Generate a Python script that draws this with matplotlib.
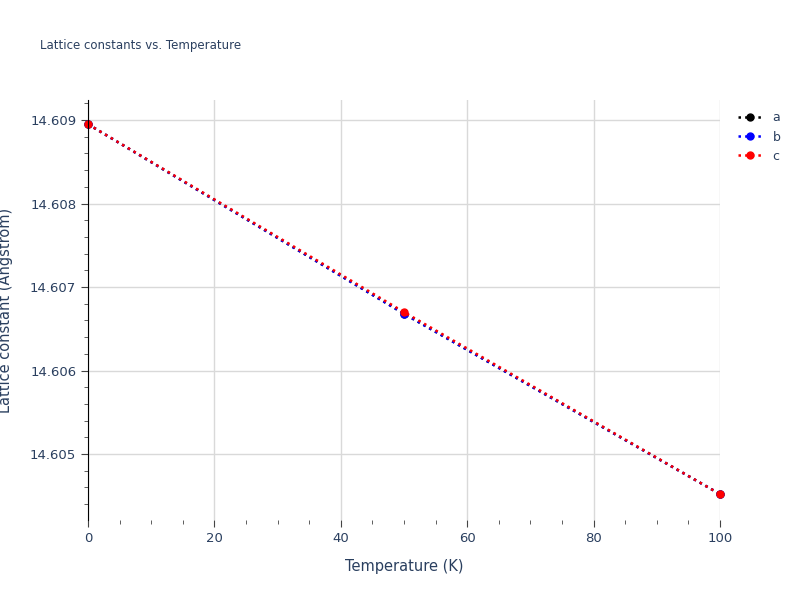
import matplotlib
matplotlib.use("Agg")
import matplotlib.pyplot as plt
from matplotlib.ticker import MultipleLocator

temps = [0, 50, 100]
a_vals = [14.60895, 14.60668, 14.60452]
b_vals = [14.60895, 14.60668, 14.60452]
c_vals = [14.60895, 14.60670, 14.60452]
series = [("a", a_vals, "black"), ("b", b_vals, "blue"), ("c", c_vals, "red")]

fig = plt.figure(figsize=(8, 6), dpi=100)
ax = fig.add_axes([88/800, 80/600, 632/800, 420/600])
for name, vals, col in series:
    ax.plot(temps, vals, linestyle=":", linewidth=1.8, color=col, marker="o", markersize=5, label=name, clip_on=False)
ax.set_xlim(0, 100)
ax.set_ylim(14.60421, 14.60924)
ax.xaxis.set_major_locator(MultipleLocator(20))
ax.xaxis.set_minor_locator(MultipleLocator(5))
ax.yaxis.set_major_locator(MultipleLocator(0.001))
ax.yaxis.set_minor_locator(MultipleLocator(0.0002))
ax.yaxis.set_major_formatter(matplotlib.ticker.FormatStrFormatter("%.3f"))
ax.grid(True, which="major", color="#d9d9d9", linewidth=1)
ax.set_axisbelow(True)
for s in ["top", "right", "bottom"]:
    ax.spines[s].set_visible(False)
ax.spines["left"].set_color("black")
ax.tick_params(which="both", colors="#444", labelcolor="#2a3f5f", labelsize=9.5)
ax.tick_params(axis="x", which="major", length=5)
ax.tick_params(axis="x", which="minor", length=3)
ax.tick_params(axis="y", which="major", length=5)
ax.tick_params(axis="y", which="minor", length=3)
ax.set_xlabel("Temperature (K)", color="#2a3f5f", fontsize=10.5, labelpad=10)
ax.set_ylabel("Lattice constant (Angstrom)", color="#2a3f5f", fontsize=10.5, labelpad=12)
fig.text(40/800, 1 - 46/600, "Lattice constants vs. Temperature", color="#2a3f5f", fontsize=8.5, va="center")
leg = ax.legend(loc="upper left", bbox_to_anchor=(1.01, 1.0), frameon=False, fontsize=9, handlelength=2, labelcolor="#2a3f5f")
fig.savefig("out.png", dpi=100)
